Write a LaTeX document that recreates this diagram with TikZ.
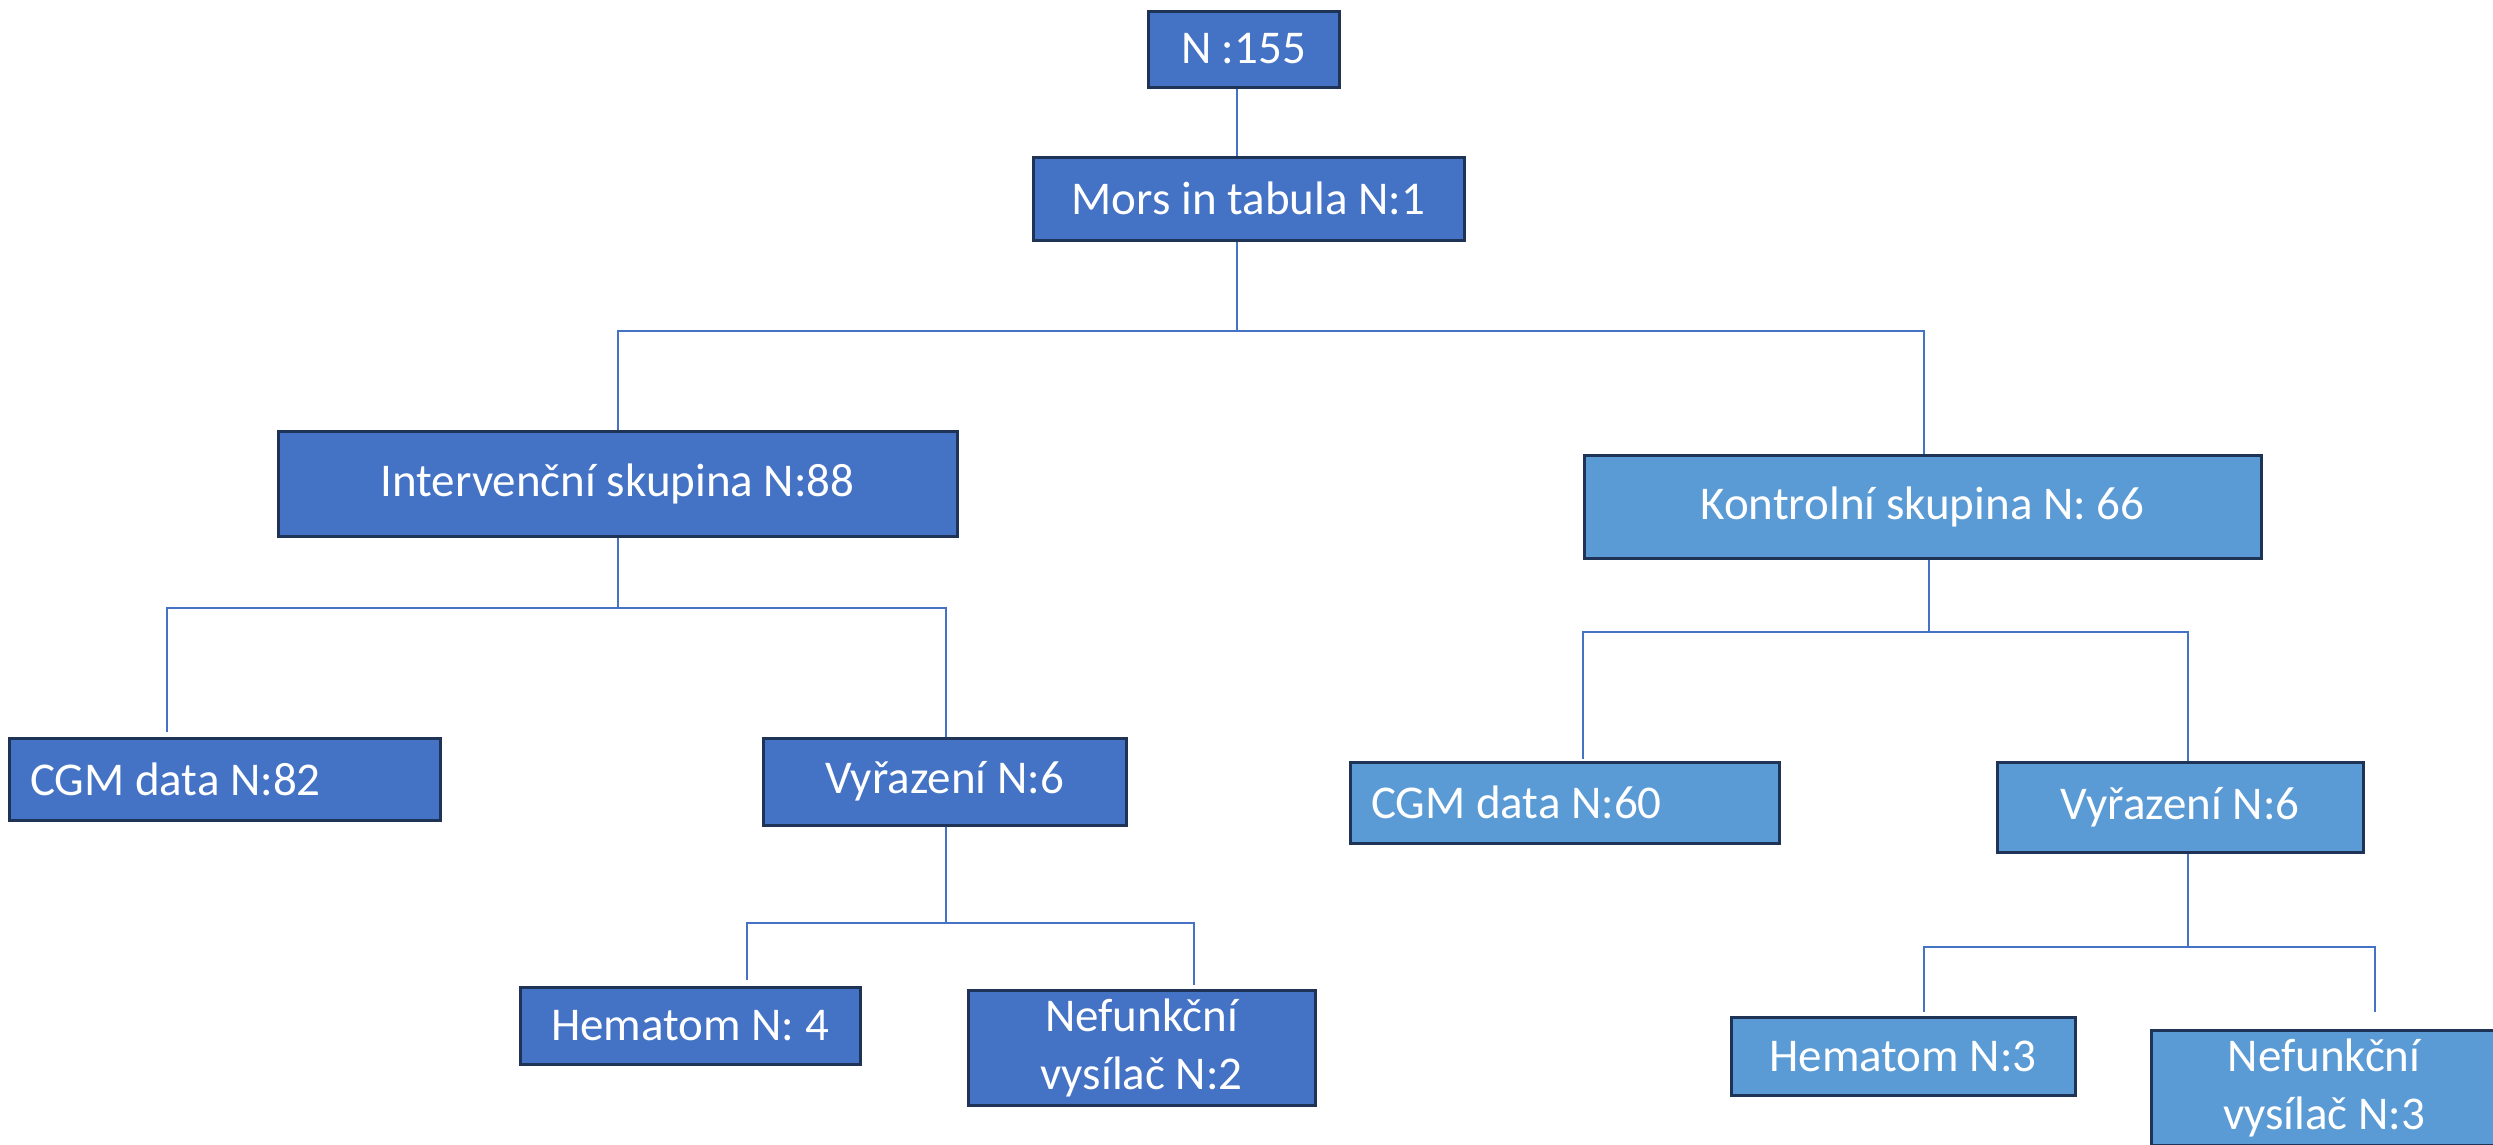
\documentclass[tikz,border=0pt]{standalone}
\usepackage{fontspec}
\setmainfont{Carlito}
\definecolor{darkfill}{HTML}{4472C4}
\definecolor{lightfill}{HTML}{5B9BD5}
\definecolor{navy}{HTML}{1F3356}
\definecolor{conncol}{HTML}{4472C4}
\tikzset{
  box/.style={draw=navy, line width=3pt, inner sep=0pt, text=white, align=center,
    font=\fontsize{47}{58}\selectfont},
  dbox/.style={box, fill=darkfill},
  lbox/.style={box, fill=lightfill},
  conn/.style={draw=conncol, line width=2pt},
}
\begin{document}
\begin{tikzpicture}[x=1pt,y=-1pt]
\useasboundingbox (0,0) rectangle (2493,1144);
\clip (0,0) rectangle (2493,1144);
\fill[white] (0,0) rectangle (2493,1144);
% nodes
\node[dbox, minimum width=191pt, minimum height=76pt] (n155) at (1243.5,49) {N :155};
\node[dbox, minimum width=431pt, minimum height=83pt] (mors) at (1248.5,198.5) {Mors in tabula N:1};
\node[dbox, minimum width=679pt, minimum height=105pt] (interv) at (617.5,483.5) {Intervenční skupina N:88};
\node[lbox, minimum width=677pt, minimum height=103pt] (kontr) at (1922.5,506.5) {Kontrolní skupina N: 66};
\node[dbox, minimum width=431pt, minimum height=82pt] (cgma) at (224.5,779) {\makebox[389pt][l]{CGM data N:82}};
\node[dbox, minimum width=363pt, minimum height=87pt] (vyra) at (944.5,781.5) {Vyřazení N:6};
\node[dbox, minimum width=340pt, minimum height=77pt] (hema) at (690,1025.5) {Hematom N: 4};
\node[dbox, minimum width=347pt, minimum height=115pt] (nefa) at (1141.5,1047.5) {Nefunkční\\vysílač N:2};
\node[lbox, minimum width=429pt, minimum height=81pt] (cgmb) at (1564.5,802.5) {\makebox[387pt][l]{CGM data N:60}};
\node[lbox, minimum width=366pt, minimum height=90pt] (vyrb) at (2180,807) {Vyřazení N:6};
\node[lbox, minimum width=344pt, minimum height=78pt] (hemb) at (1903,1056) {Hematom N:3};
\node[lbox, minimum width=346pt, minimum height=115pt] (nefb) at (2324,1087.5) {Nefunkční\\vysílač N:3};
% columns of connectors
\coordinate (cTop) at (1237,0);
\coordinate (cInt) at (618,0);
\coordinate (cKonA) at (1924,0);
\coordinate (cKonB) at (1929,0);
\coordinate (cCgmA) at (167,0);
\coordinate (cVyrA) at (946,0);
\coordinate (cHemA) at (747,0);
\coordinate (cNefA) at (1194,0);
\coordinate (cCgmB) at (1583,0);
\coordinate (cVyrB) at (2188,0);
\coordinate (cHemB) at (1924,0);
\coordinate (cNefB) at (2375,0);
% connectors
\draw[conn] (cTop |- n155.south) -- (cTop |- mors.north);
\draw[conn] (cTop |- mors.south) -- ++(0,89) coordinate (busTop);
\draw[conn] (cInt |- interv.north) -- (cInt |- busTop) -- (cKonA |- busTop) -- (cKonA |- kontr.north);
\draw[conn] (cInt |- interv.south) -- ++(0,70) coordinate (busInt);
\draw[conn] ([yshift=5pt]cCgmA |- cgma.north) -- (cCgmA |- busInt) -- (cVyrA |- busInt) -- (cVyrA |- vyra.north);
\draw[conn] (cVyrA |- vyra.south) -- ++(0,96) coordinate (busVyrA);
\draw[conn] ([yshift=6pt]cHemA |- hema.north) -- (cHemA |- busVyrA) -- (cNefA |- busVyrA) -- ([yshift=4pt]cNefA |- nefa.north);
\draw[conn] (cKonB |- kontr.south) -- ++(0,72) coordinate (busKon);
\draw[conn] ([yshift=2pt]cCgmB |- cgmb.north) -- (cCgmB |- busKon) -- (cVyrB |- busKon) -- (cVyrB |- vyrb.north);
\draw[conn] (cVyrB |- vyrb.south) -- ++(0,93) coordinate (busVyrB);
\draw[conn] ([yshift=4pt]cHemB |- hemb.north) -- (cHemB |- busVyrB) -- (cNefB |- busVyrB) -- ([yshift=17pt]cNefB |- nefb.north);
\end{tikzpicture}
\end{document}
